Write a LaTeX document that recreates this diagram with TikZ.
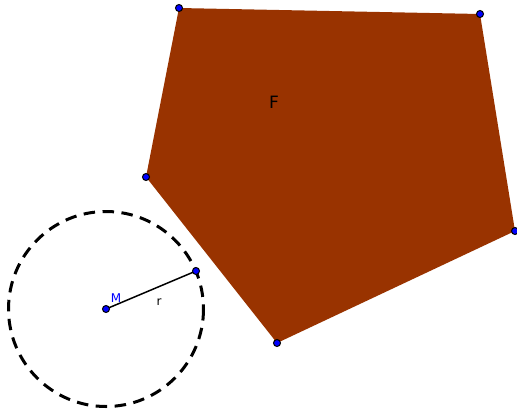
\documentclass[tikz,border=0pt]{standalone}
\usepackage{fontspec}
\setmainfont{DejaVu Sans}
\definecolor{polyfill}{HTML}{993300}
\definecolor{ptblue}{HTML}{0000FF}
\begin{document}
\begin{tikzpicture}[x=1pt,y=-1pt,
  pt/.style={circle,fill=ptblue,draw=black,line width=1pt,inner sep=0pt,minimum size=7pt},
  lbl/.style={inner sep=0pt,font=\fontsize{12.5}{12.5}\selectfont}]
\useasboundingbox (0,0) rectangle (517,413);
\coordinate (A) at (179,8);
\coordinate (B) at (480,14);
\coordinate (C) at (515,231);
\coordinate (D) at (277,343);
\coordinate (E) at (146,177);
\fill[polyfill] (A) -- (B) -- (C) -- (D) -- (E) -- cycle;
\coordinate (Mc) at (106,309);
\coordinate (Pc) at (196,271);
\draw[line width=3pt,dash pattern=on 11.5pt off 7.5pt] (Mc) circle (97.5);
\draw[line width=1.5pt] (Mc) -- (Pc);
\foreach \p in {A,B,C,D,E} \node[pt] (n\p) at (\p) {};
\node[pt] (Mn) at (Mc) {};
\node[pt] (Pn) at (Pc) {};
\node[lbl,text=ptblue,font=\fontsize{12}{12}\selectfont] (Ml) at (116,298) {M};
\node[lbl,font=\fontsize{12}{12}\selectfont] (rl) at (159,302) {r};
\node[inner sep=0pt,font=\fontsize{17}{17}\selectfont] (Fl) at (274,102) {F};
\end{tikzpicture}
\end{document}
